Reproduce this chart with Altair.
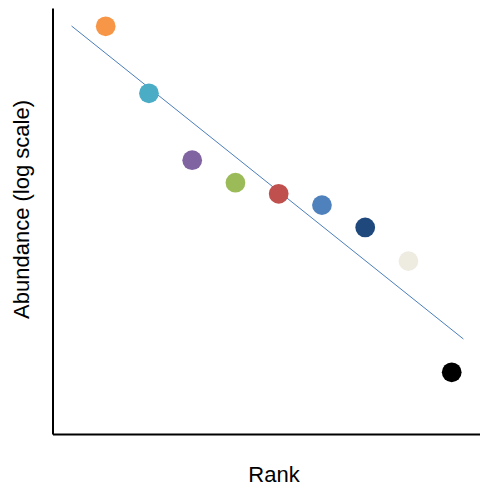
import altair as alt
import pandas as pd

# rank-abundance points, abundance
ranks = [1, 2, 3, 4, 5, 6, 7, 8, 9]
abundance = [6730, 1580, 372, 229, 180, 141, 87, 42, 3.8]

# end points of the fitted trend line
fit_rank = [0.21, 9.27]
fit_abundance = [6780, 7.8]

# one office-style colour per rank
palette = ["#f79646", "#4bacc6", "#8064a2", "#9bbb59", "#c0504d",
           "#4f81bd", "#1f497d", "#eeece1", "#000000"]

points_df = pd.DataFrame({"rank": ranks, "abundance": abundance})
fit_df = pd.DataFrame({"rank": fit_rank, "abundance": fit_abundance})

x_scale = alt.Scale(domain=[-0.23, 9.654], nice=False, zero=False)
y_scale = alt.Scale(type="log", domain=[1, 10000], nice=False)

x_axis = alt.Axis(
    title="Rank", labels=False, ticks=False, grid=False,
    domainColor="black", domainWidth=2,
    titleX=221, titleY=47, titleAlign="center", titleBaseline="alphabetic",
)
y_axis = alt.Axis(
    title="Abundance (log scale)", labels=False, ticks=False, grid=False,
    domainColor="black", domainWidth=2,
    titleX=-24, titleY=201, titleAngle=270, titleAlign="center",
    titleBaseline="alphabetic",
)

# thin blue trend line
fit_line = (
    alt.Chart(fit_df)
    .mark_line(color="#4a7ebb", strokeWidth=1)
    .encode(
        x=alt.X("rank:Q", scale=x_scale, axis=x_axis),
        y=alt.Y("abundance:Q", scale=y_scale, axis=y_axis),
    )
)

# coloured dots, one per rank
dots = (
    alt.Chart(points_df)
    .mark_circle(size=390, opacity=1)
    .encode(
        x=alt.X("rank:Q", scale=x_scale),
        y=alt.Y("abundance:Q", scale=y_scale),
        color=alt.Color("rank:N", scale=alt.Scale(domain=ranks, range=palette), legend=None),
    )
)

chart = (
    alt.layer(fit_line, dots)
    .properties(
        width=427.5,
        height=426,
        autosize=alt.AutoSizeParams(type="none"),
        padding={"left": 44.5, "top": 0, "right": 0, "bottom": 52},
        background="white",
    )
    .configure_view(stroke=None)
    .configure_axis(
        titleFont="Liberation Sans", titleFontSize=22, titleFontWeight="normal",
        titleColor="black",
    )
)

chart.save("out.html", embed_options={"renderer": "svg", "actions": False})
